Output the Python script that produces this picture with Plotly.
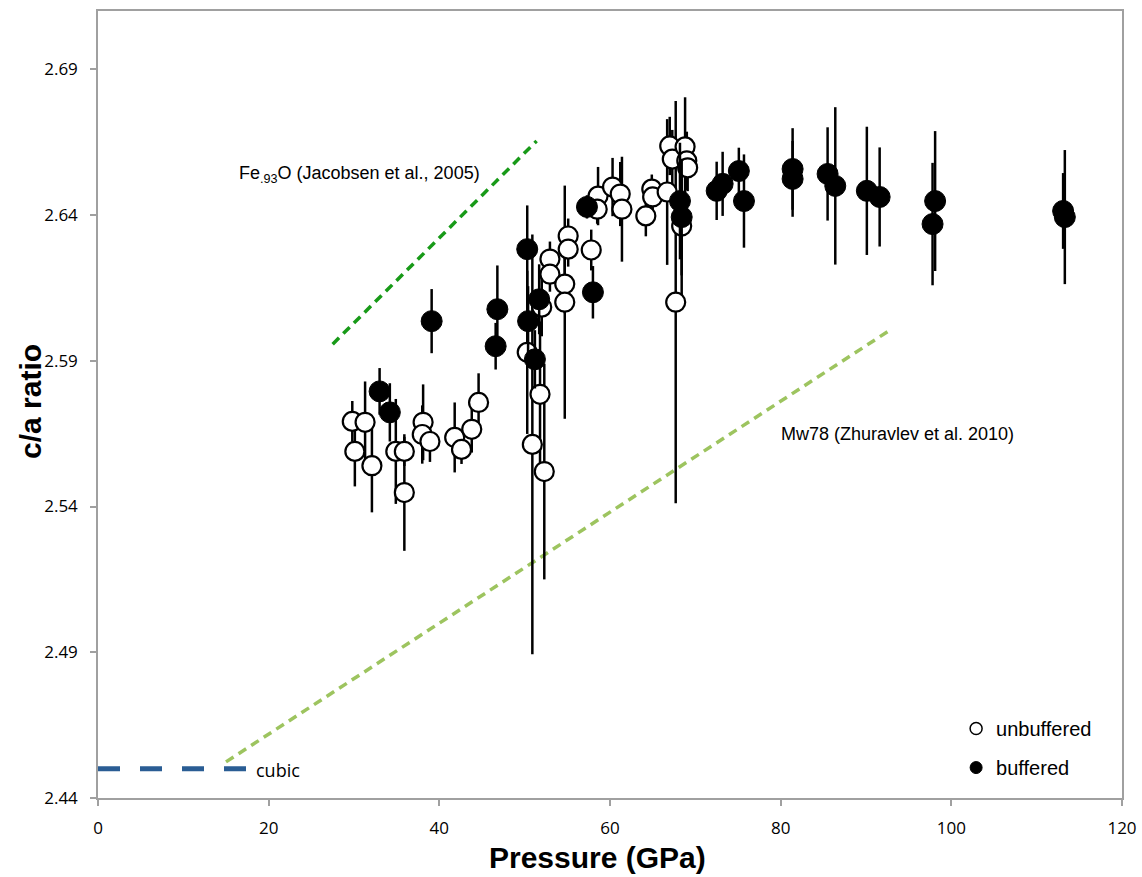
import plotly.graph_objects as go

# Unbuffered (open circles)
unbuf_p = [29.8, 30.1, 31.3, 32.1, 34.9, 35.9, 35.9, 38.1, 38.0, 38.9, 41.8, 42.6, 43.8, 44.6,
           50.3, 50.9, 51.8, 52.0, 52.3, 52.96, 52.96, 54.7, 54.7, 55.1, 55.1, 57.8, 58.6, 58.5,
           60.3, 61.2, 61.4, 64.2, 64.9, 65.0, 66.7, 67.0, 67.3, 67.7, 68.4, 68.8, 69.0, 69.1]
unbuf_ca = [2.5692, 2.5589, 2.5689, 2.5540, 2.5589, 2.5589, 2.5448, 2.5689, 2.5647, 2.5623, 2.5637, 2.5596, 2.5665, 2.5757,
            2.5929, 2.5613, 2.5785, 2.6084, 2.5520, 2.6249, 2.6197, 2.6163, 2.6101, 2.6328, 2.6283, 2.6280, 2.6465, 2.6420,
            2.6496, 2.6472, 2.6420, 2.6397, 2.6489, 2.6462, 2.6479, 2.6637, 2.6592, 2.6101, 2.6362, 2.6634, 2.6586, 2.6562]
unbuf_err = [0.007, 0.012, 0.014, 0.016, 0.018, 0.005, 0.020, 0.013, 0.010, 0.007, 0.012, 0.005, 0.008, 0.010,
             0.028, 0.072, 0.025, 0.010, 0.037, 0.006, 0.006, 0.010, 0.040, 0.006, 0.006, 0.007, 0.010, 0.005,
             0.010, 0.011, 0.018, 0.007, 0.005, 0.005, 0.025, 0.010, 0.010, 0.069, 0.025, 0.017, 0.010, 0.008]

# Buffered (filled circles)
buf_p = [33.0, 34.2, 39.1, 46.6, 46.8, 50.3, 50.4, 51.2, 51.7, 57.3, 58.0, 68.2, 68.4,
         72.5, 73.2, 75.1, 75.7, 81.4, 81.4, 85.5, 86.4, 90.1, 91.6, 98.1, 97.8, 113.1, 113.3]
buf_ca = [2.5795, 2.5723, 2.6036, 2.5950, 2.6077, 2.6283, 2.6036, 2.5905, 2.6111, 2.6428, 2.6135, 2.6448, 2.6393,
          2.6483, 2.6507, 2.6551, 2.6448, 2.6558, 2.6524, 2.6541, 2.6500, 2.6483, 2.6462, 2.6448, 2.6369, 2.6414, 2.6393]
buf_err = [0.008, 0.010, 0.011, 0.008, 0.015, 0.015, 0.012, 0.010, 0.012, 0.004, 0.009, 0.020, 0.020,
           0.010, 0.011, 0.008, 0.016, 0.014, 0.013, 0.016, 0.027, 0.022, 0.017, 0.024, 0.021, 0.013, 0.023]

# Reference lines
jacobsen_p = [27.5, 51.4]
jacobsen_ca = [2.5957, 2.6654]
zhuravlev_p = [15.0, 92.8]
zhuravlev_ca = [2.4524, 2.6005]
cubic_p = [0.0, 17.4]
cubic_ca = [2.45, 2.45]

x_ticks = [0, 20, 40, 60, 80, 100, 120]
y_ticks = [2.44, 2.49, 2.54, 2.59, 2.64, 2.69]

fig = go.Figure()

fig.add_trace(go.Scatter(x=cubic_p, y=cubic_ca, mode="lines", showlegend=False,
                         line=dict(color="#2a5d94", width=5, dash="22px,20px"), hoverinfo="skip"))
fig.add_trace(go.Scatter(x=zhuravlev_p, y=zhuravlev_ca, mode="lines", showlegend=False,
                         line=dict(color="#9dc45f", width=3.5, dash="9px,6px"), hoverinfo="skip"))
fig.add_trace(go.Scatter(x=jacobsen_p, y=jacobsen_ca, mode="lines", showlegend=False,
                         line=dict(color="#189a18", width=3.5, dash="9px,6px"), hoverinfo="skip"))

fig.add_trace(go.Scatter(x=unbuf_p, y=unbuf_ca, mode="markers", showlegend=False,
                         error_y=dict(type="data", array=unbuf_err, color="black", thickness=2.5, width=0),
                         marker=dict(symbol="circle", size=19, color="white", line=dict(color="black", width=2.2))))
fig.add_trace(go.Scatter(x=buf_p, y=buf_ca, mode="markers", showlegend=False,
                         error_y=dict(type="data", array=buf_err, color="black", thickness=2.5, width=0),
                         marker=dict(symbol="circle", size=21, color="black", line=dict(color="black", width=1))))

# legend-only entries
fig.add_trace(go.Scatter(x=[None], y=[None], mode="markers", name="unbuffered", legendgroup="a",
                         marker=dict(symbol="circle", size=12, color="white", line=dict(color="black", width=1.5))))
fig.add_trace(go.Scatter(x=[None], y=[None], mode="markers", name="buffered", legendgroup="b",
                         marker=dict(symbol="circle", size=12, color="black", line=dict(color="black", width=1))))

fig.add_annotation(x=16.3, y=2.654, xref="x", yref="y", xanchor="left", yanchor="middle", showarrow=False,
                   text="Fe<sub>.93</sub>O (Jacobsen et al., 2005)",
                   font=dict(family="Liberation Sans, Arial", size=18, color="black"))
fig.add_annotation(x=79.8, y=2.5650, xref="x", yref="y", xanchor="left", yanchor="middle", showarrow=False,
                   text="Mw78 (Zhuravlev et al. 2010)",
                   font=dict(family="Liberation Sans, Arial", size=18, color="black"))
fig.add_annotation(x=18.3, y=2.4495, xref="x", yref="y", xanchor="left", yanchor="middle", showarrow=False,
                   text="cubic", font=dict(family="Open Sans, Liberation Sans", size=18, color="black"))

# axis titles as annotations for exact placement
fig.add_annotation(x=(597 - 98) / 1024, y=-(857 - 798) / 787, xref="paper", yref="paper",
                   xanchor="center", yanchor="middle", showarrow=False,
                   text="<b>Pressure (GPa)</b>",
                   font=dict(family="Liberation Sans, Arial", size=30, color="black"))
fig.add_annotation(x=(30 - 98) / 1024, y=(798 - 402) / 787, xref="paper", yref="paper",
                   xanchor="center", yanchor="middle", showarrow=False, textangle=-90,
                   text="<b>c/a ratio</b>",
                   font=dict(family="Liberation Sans, Arial", size=30, color="black"))

axis_common = dict(showline=True, linecolor="#a0a0a0", linewidth=1.5, mirror=True, showgrid=False,
                   zeroline=False, ticks="outside", tickcolor="#a0a0a0", ticklen=6, tickwidth=1.5,
                   automargin=False,
                   tickfont=dict(family="Open Sans, Liberation Sans", size=17, color="black"))

fig.update_layout(
    width=1142, height=877,
    margin=dict(l=98, r=20, t=11, b=79),
    paper_bgcolor="white", plot_bgcolor="white",
    xaxis=dict(range=[0, 120], tickvals=x_ticks, ticktext=[str(v) for v in x_ticks],
               ticklabelstandoff=8, **axis_common),
    yaxis=dict(range=[2.44, 2.71], tickvals=y_ticks, ticktext=[f"{v:.2f}" for v in y_ticks],
               ticklabelstandoff=9, **axis_common),
    legend=dict(x=0.838, y=0.113, xanchor="left", yanchor="top", bgcolor="rgba(0,0,0,0)",
                font=dict(family="Liberation Sans, Arial", size=20, color="black"),
                traceorder="grouped", tracegroupgap=10, itemwidth=30),
    showlegend=True,
)

fig.write_html("out.html")
